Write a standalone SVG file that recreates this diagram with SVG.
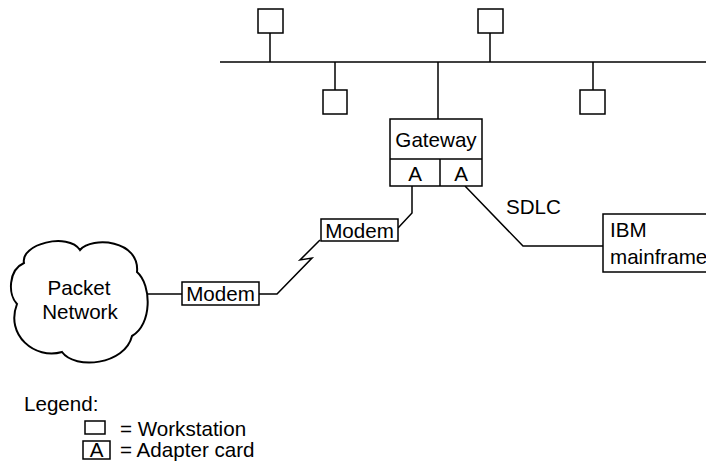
<svg xmlns="http://www.w3.org/2000/svg" width="706" height="461" viewBox="0 0 706 461">
<style>
.ln{fill:none;stroke:#000;stroke-width:1.5}
.bx{fill:#fff;stroke:#000;stroke-width:1.5}
.t{font-family:"Liberation Sans",Arial,Helvetica,sans-serif;font-size:20.6px;fill:#000}
.m{text-anchor:middle}
</style>
<rect width="706" height="461" fill="#fff"/>
<g id="connectors">
<line class="ln" x1="220" y1="62" x2="706" y2="62"/>
<line class="ln" x1="270" y1="33" x2="270" y2="62"/>
<line class="ln" x1="490" y1="33" x2="490" y2="62"/>
<line class="ln" x1="335" y1="62" x2="335" y2="90"/>
<line class="ln" x1="593" y1="62" x2="593" y2="90"/>
<line class="ln" x1="438" y1="62" x2="438" y2="119"/>
<polyline class="ln" points="412,186 412,213 398,228"/>
<polyline class="ln" points="465,186 523,246 603,246"/>
<polyline class="ln" points="320,240 300,260 312,258 277,294 259,294"/>
<line class="ln" x1="146" y1="294" x2="182" y2="294"/>
<text class="t" x="506" y="214">SDLC</text>
</g>
<g id="ws1"><rect class="bx" x="258" y="9" width="25" height="24"/></g>
<g id="ws2"><rect class="bx" x="478" y="9" width="25" height="24"/></g>
<g id="ws3"><rect class="bx" x="323" y="90" width="24" height="24"/></g>
<g id="ws4"><rect class="bx" x="580" y="90" width="25" height="24"/></g>
<g id="gateway">
<rect class="bx" x="390" y="119" width="92" height="67"/>
<line class="ln" x1="390" y1="159" x2="482" y2="159"/>
<line class="ln" x1="440" y1="159" x2="440" y2="186"/>
<text class="t m" x="436" y="147">Gateway</text>
<text class="t m" x="415" y="181">A</text>
<text class="t m" x="461" y="181">A</text>
</g>
<g id="modem1">
<rect class="bx" x="321" y="219" width="77" height="22"/>
<text class="t m" x="359.5" y="238">Modem</text>
</g>
<g id="modem2">
<rect class="bx" x="182" y="282" width="77" height="23"/>
<text class="t m" x="220.5" y="301">Modem</text>
</g>
<g id="ibm">
<rect class="bx" x="603" y="214" width="110" height="58"/>
<text class="t" x="610" y="237">IBM</text>
<text class="t" x="610" y="264">mainframe</text>
</g>
<g id="packet-network">
<path d="M24,263 C20,244 68,232 80,250 C92,236 140,240 137,272 C152,285 152,325 132,336 C125,365 75,370 62,352 C35,360 5,335 17,304 C8,295 8,270 24,263 Z" fill="#fff" stroke="#000" stroke-width="2"/>
<text class="t m" x="79" y="295">Packet</text>
<text class="t m" x="80" y="319">Network</text>
</g>
<g id="legend">
<text class="t" x="24" y="411">Legend:</text>
<rect class="bx" x="85" y="421" width="20" height="13"/>
<text class="t" x="120" y="436">= Workstation</text>
<rect class="bx" x="83" y="441" width="27" height="18"/>
<text class="t m" x="96.5" y="457">A</text>
<text class="t" x="120" y="457">= Adapter card</text>
</g>
</svg>
